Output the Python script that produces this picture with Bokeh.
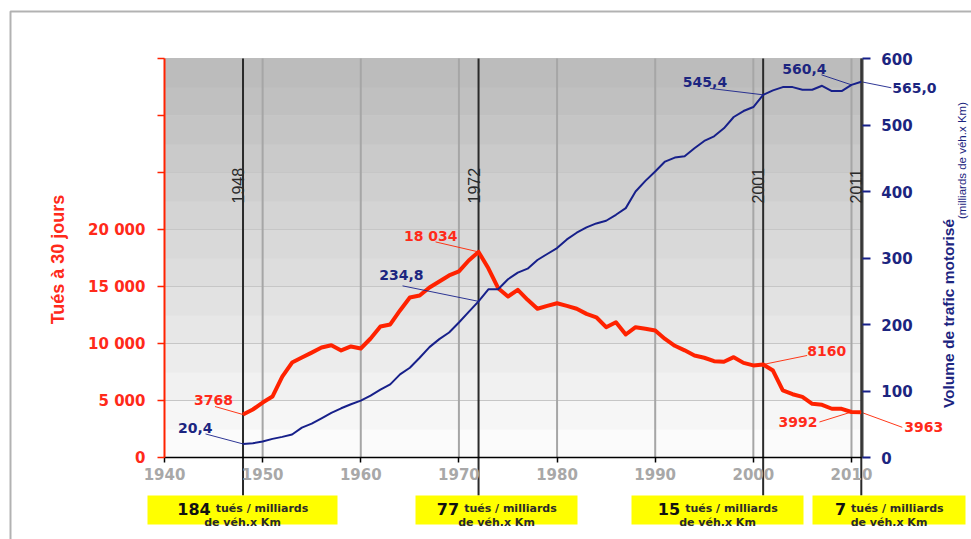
import numpy as np
from bokeh.plotting import figure
from bokeh.models import Range1d, LinearAxis, FixedTicker, Label, BoxAnnotation
from bokeh.embed import file_html
from bokeh.resources import INLINE

# ---------------- data ----------------
YEARS = list(range(1948, 2012))
KILLED = [3768, 4210, 4820, 5350, 7100, 8330, 8770, 9200, 9650, 9850,
          9390, 9740, 9560, 10440, 11490, 11670, 12900, 14040, 14210, 14910,
          15440, 15970, 16320, 17280, 18034, 16600, 14850, 14120, 14710, 13830,
          13050, 13300, 13530, 13300, 13050, 12600, 12300, 11430, 11870, 10790,
          11430, 11300, 11140, 10400, 9800, 9400, 8950, 8750, 8450, 8400,
          8800, 8300, 8080, 8160, 7630, 5880, 5550, 5320, 4710, 4620,
          4275, 4273, 3992, 3963]
TRAFFIC = [20.4, 21.5, 24, 28, 31, 34.5, 45, 51, 59, 67,
           74, 80, 85.5, 93, 102, 110, 125, 135, 150, 166,
           178, 188, 203, 219, 234.8, 253, 253, 268, 278, 284,
           297, 306, 315, 328, 338, 346, 352, 356, 365, 375,
           400, 416, 430, 445, 451, 453, 465, 476, 483, 495,
           512, 521, 527, 545.4, 552, 557, 557, 553, 553, 559,
           551, 551, 560.4, 565.0]

X_TICKS = [1940, 1950, 1960, 1970, 1980, 1990, 2000, 2010]
X_TICK_LABELS = ["1940", "1950", "1960", "1970", "1980", "1990", "2000", "2010"]
LEFT_TICKS = [0, 5000, 10000, 15000, 20000, 25000, 30000, 35000]
LEFT_TICK_LABELS = ["0", "5 000", "10 000", "15 000", "20 000", "", "", ""]
RIGHT_TICKS = [0, 100, 200, 300, 400, 500, 600]
RIGHT_TICK_LABELS = ["0", "100", "200", "300", "400", "500", "600"]

MARK_YEARS = [1948, 1972, 2001, 2011]
RATES = ["184", "77", "15", "7"]
RATE_TEXT_1 = "tués / milliards"
RATE_TEXT_2 = "de véh.x Km"

NOTE_YEARS = [1948, 1972, 2001, 2010, 2011]

LEFT_TITLE = "Tués à 30 jours"
RIGHT_TITLE = "Volume de trafic motorisé"
RIGHT_SUBTITLE = "(milliards de véh.x Km)"

# ---------------- layout / style ----------------
W, H = 971, 539
X_MIN, X_MAX = 1940, 2011.1
PX_X0 = 164.0          # pixel column of 1940
PX_PER_YEAR = 9.814
PX_Y0 = 457.0          # pixel row of value 0
PX_TOP = 58.0          # pixel row of plot top
LEFT_MAX, RIGHT_MAX = 35000, 600
V_PER_PX = LEFT_MAX / (PX_Y0 - PX_TOP)
T_PER_PX = RIGHT_MAX / (PX_Y0 - PX_TOP)

x_start = X_MIN - PX_X0 / PX_PER_YEAR
x_end = X_MIN + (W - PX_X0) / PX_PER_YEAR
y_start = -(H - PX_Y0) * V_PER_PX
y_end = PX_Y0 * V_PER_PX


def px2v(py):
    return (PX_Y0 - py) * V_PER_PX


RED = "#ff2200"
RED_TXT = "#ff2a1a"
NAVY = "#17208a"
NAVY_TXT = "#1c2580"
SANS = "Liberation Sans"
WIDE = "DejaVu Sans"

p = figure(width=W, height=H, x_range=Range1d(x_start, x_end),
           y_range=Range1d(y_start, y_end), x_axis_type=None, y_axis_type=None,
           toolbar_location=None, output_backend="svg", min_border=0,
           outline_line_color=None, background_fill_color="white",
           border_fill_color="white")
p.title.visible = False
p.extra_y_ranges = {"traffic": Range1d(y_start * T_PER_PX / V_PER_PX,
                                       y_end * T_PER_PX / V_PER_PX)}

# background gradient (stepped)
N_BANDS = 14
edges = np.linspace(0, LEFT_MAX, N_BANDS + 1)
shades = np.linspace(251, 188, N_BANDS)
band_colors = ["#%02x%02x%02x" % (int(s), int(s), int(s)) for s in shades]
p.quad(left=X_MIN, right=X_MAX, bottom=edges[:-1], top=edges[1:],
       fill_color=band_colors, line_color=band_colors, line_width=1)

# grid lines
p.segment(x0=X_MIN, y0=LEFT_TICKS[1:-1], x1=X_MAX, y1=LEFT_TICKS[1:-1],
          line_color="#c6c6c6", line_width=1)
p.segment(x0=X_TICKS[1:], y0=0, x1=X_TICKS[1:], y1=LEFT_MAX,
          line_color="#a6a6a6", line_width=2)

# reference year lines (down to the yellow boxes)
p.segment(x0=MARK_YEARS, y0=LEFT_MAX, x1=MARK_YEARS, y1=px2v(495),
          line_color="#2a2a2a", line_width=2)

# data lines
p.line(YEARS, KILLED, line_color=RED, line_width=4, line_join="round")
p.line(YEARS, TRAFFIC, y_range_name="traffic", line_color=NAVY, line_width=2,
       line_join="round")

# axes
xax = LinearAxis(fixed_location=0, bounds=(X_MIN, X_MAX),
                 ticker=FixedTicker(ticks=X_TICKS),
                 major_label_overrides=dict(zip(X_TICKS, X_TICK_LABELS)))
xax.axis_line_color = "black"
xax.axis_line_width = 1.5
xax.major_tick_line_color = "black"
xax.major_tick_line_width = 1.5
xax.major_tick_out = 5
xax.major_tick_in = 0
xax.minor_tick_out = 0
xax.major_label_standoff = 5
xax.major_label_text_font = WIDE
xax.major_label_text_font_style = "bold"
xax.major_label_text_font_size = "15px"
xax.major_label_text_color = "#a8a8a8"
p.add_layout(xax, "below")

lax = LinearAxis(fixed_location=X_MIN, bounds=(0, LEFT_MAX),
                 ticker=FixedTicker(ticks=LEFT_TICKS),
                 major_label_overrides=dict(zip(LEFT_TICKS, LEFT_TICK_LABELS)))
lax.axis_line_color = RED
lax.axis_line_width = 2
lax.major_tick_line_color = RED
lax.major_tick_line_width = 1.5
lax.major_tick_out = 7
lax.major_tick_in = 0
lax.minor_tick_out = 0
lax.major_label_standoff = 12
lax.major_label_text_font = WIDE
lax.major_label_text_font_style = "bold"
lax.major_label_text_font_size = "15px"
lax.major_label_text_color = RED_TXT
p.add_layout(lax, "left")

rax = LinearAxis(fixed_location=X_MAX, y_range_name="traffic",
                 bounds=(0, RIGHT_MAX), ticker=FixedTicker(ticks=RIGHT_TICKS),
                 major_label_overrides=dict(zip(RIGHT_TICKS, RIGHT_TICK_LABELS)))
rax.axis_line_color = "#404040"
rax.axis_line_width = 2
rax.major_tick_line_color = NAVY
rax.major_tick_line_width = 2
rax.major_tick_out = 8
rax.major_tick_in = 0
rax.minor_tick_out = 0
rax.major_label_standoff = 11
rax.major_label_text_font = WIDE
rax.major_label_text_font_style = "bold"
rax.major_label_text_font_size = "15px"
rax.major_label_text_color = NAVY_TXT
p.add_layout(rax, "right")

# year labels on the reference lines
for yr in MARK_YEARS:
    p.add_layout(Label(x=yr, x_offset=-5, y=H - 203, y_units="screen",
                       angle=90, angle_units="deg", text=str(yr),
                       text_align="left", text_baseline="alphabetic",
                       text_font=SANS, text_font_size="16px",
                       text_color="#2a2a2a"))

# value annotations with leader lines
KILLED_LAYOUT = {
    1948: (-10, -15, "right", -28, -8),
    1972: (-21, -15.5, "right", -43, -10),
    2001: (44, -13.5, "left", 44, -9),
    2010: (-34, 10.5, "right", -32, 10),
    2011: (43, 14.5, "left", 41, 15),
}
TRAFFIC_LAYOUT = {
    1948: (-30.5, -16, "right", -37.5, -10),
    1972: (-55, -26, "right", -76, -15.5),
    2001: (-36, -13, "right", -53, -6.4),
    2010: (-25, -16, "right", -30, -10),
    2011: (31, 6.7, "left", 30, 6),
}


def fmt_k(v):
    return f"{v:,}".replace(",", " ") if v >= 10000 else str(v)


def fmt_t(v):
    return f"{v:.1f}".replace(".", ",")


for yr in NOTE_YEARS:
    i = YEARS.index(yr)
    v = KILLED[i]
    dx, dy, al, lx, ly = KILLED_LAYOUT[yr]
    p.segment(x0=[yr], y0=[v], x1=[yr + lx / PX_PER_YEAR], y1=[v - ly * V_PER_PX],
              line_color=RED, line_width=0.9)
    p.add_layout(Label(x=yr, y=v, x_offset=dx, y_offset=-dy, text=fmt_k(v),
                       text_align=al, text_baseline="middle", text_font=WIDE,
                       text_font_style="bold", text_font_size="14px",
                       text_color=RED_TXT))
    t = TRAFFIC[i]
    dx, dy, al, lx, ly = TRAFFIC_LAYOUT[yr]
    p.segment(x0=[yr], y0=[t], x1=[yr + lx / PX_PER_YEAR], y1=[t - ly * T_PER_PX],
              y_range_name="traffic", line_color=NAVY, line_width=0.9)
    p.add_layout(Label(x=yr, y=t, y_range_name="traffic", x_offset=dx,
                       y_offset=-dy, text=fmt_t(t), text_align=al,
                       text_baseline="middle", text_font=WIDE,
                       text_font_style="bold", text_font_size="14px",
                       text_color=NAVY_TXT))

# axis titles
p.add_layout(Label(x=57, y=H - 259, x_units="screen", y_units="screen",
                   angle=90, angle_units="deg", text=LEFT_TITLE,
                   text_align="center", text_baseline="alphabetic",
                   text_font=SANS, text_font_style="bold",
                   text_font_size="18px", text_color=RED_TXT))
p.add_layout(Label(x=948, y=H - 313, x_units="screen", y_units="screen",
                   angle=90, angle_units="deg", text=RIGHT_TITLE,
                   text_align="center", text_baseline="alphabetic",
                   text_font=SANS, text_font_style="bold",
                   text_font_size="15.5px", text_color=NAVY_TXT))
p.add_layout(Label(x=961, y=H - 160, x_units="screen", y_units="screen",
                   angle=90, angle_units="deg", text=RIGHT_SUBTITLE,
                   text_align="center", text_baseline="alphabetic",
                   text_font=SANS, text_font_size="11.5px",
                   text_color=NAVY_TXT))

# yellow rate boxes
BOX_L = [147, 415, 631, 812]
BOX_R = [337, 577, 803, 965]
BOX_TOP_PX, BOX_BOT_PX = 495, 524
for i in range(len(RATES)):
    p.add_layout(BoxAnnotation(left=BOX_L[i], right=BOX_R[i], top=H - BOX_TOP_PX,
                               bottom=H - BOX_BOT_PX, left_units="screen",
                               right_units="screen", top_units="screen",
                               bottom_units="screen", fill_color="#ffff00",
                               fill_alpha=1.0, line_color=None))
    c = (BOX_L[i] + BOX_R[i]) / 2
    w_num = len(RATES[i]) * 0.696 * 16
    split = c + (w_num - 92) / 2
    p.add_layout(Label(x=split - 2.5, y=H - 508, x_units="screen", y_units="screen",
                       text=RATES[i], text_align="right", text_baseline="alphabetic",
                       text_font=WIDE, text_font_style="bold",
                       text_font_size="16px", text_color="#111111"))
    p.add_layout(Label(x=split + 2.5, y=H - 508, x_units="screen", y_units="screen",
                       text=RATE_TEXT_1, text_align="left", text_baseline="alphabetic",
                       text_font=WIDE, text_font_style="bold",
                       text_font_size="11px", text_color="#2a2a2a"))
    p.add_layout(Label(x=c, y=H - 521.5, x_units="screen", y_units="screen",
                       text=RATE_TEXT_2, text_align="center", text_baseline="alphabetic",
                       text_font=WIDE, text_font_style="bold",
                       text_font_size="11px", text_color="#2a2a2a"))

# outer frame
p.add_layout(BoxAnnotation(left=10, right=W + 20, top=H - 11, bottom=-20,
                           left_units="screen", right_units="screen",
                           top_units="screen", bottom_units="screen",
                           fill_color=None, line_color="black", line_width=2))

open("out.html", "w").write(file_html(p, INLINE))
